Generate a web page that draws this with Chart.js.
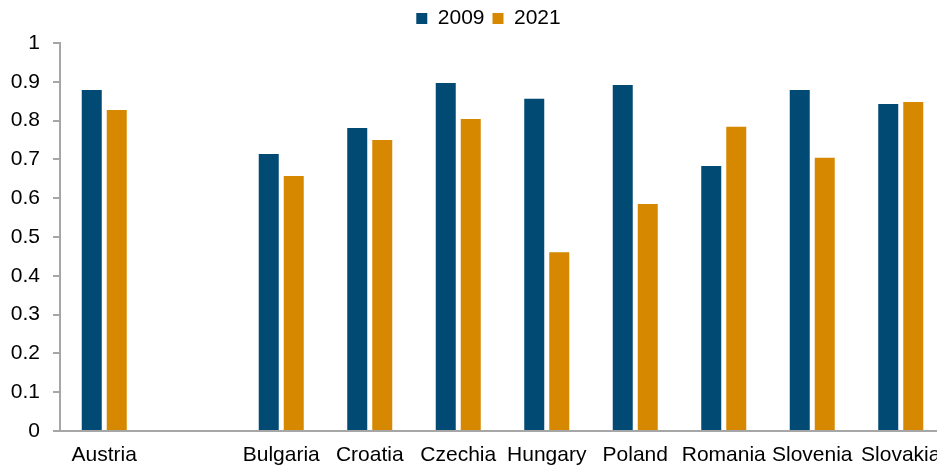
<!DOCTYPE html>
<html>
<head>
<meta charset="utf-8">
<script src="https://cdn.jsdelivr.net/npm/chart.js@4.4.1/dist/chart.umd.min.js"></script>
<style>
  html, body { margin: 0; padding: 0; background: #fff; overflow: hidden; }
  #wrap { width: 976px; height: 468px; }
</style>
</head>
<body>
<div id="wrap"><canvas id="chart"></canvas></div>
<script>
// Country comparison, 2009 vs 2021 (blank slot after Austria as in the original)
const countries = ['Austria', '', 'Bulgaria', 'Croatia', 'Czechia', 'Hungary', 'Poland', 'Romania', 'Slovenia', 'Slovakia'];
const values2009 = [0.879, null, 0.714, 0.781, 0.897, 0.856, 0.892, 0.683, 0.879, 0.843];
const values2021 = [0.827, null, 0.657, 0.750, 0.804, 0.461, 0.585, 0.784, 0.704, 0.848];
const yTicks = [0, 0.1, 0.2, 0.3, 0.4, 0.5, 0.6, 0.7, 0.8, 0.9, 1];

const axisGrey = '#a6a6a6';
const font = { family: 'Liberation Sans, Arial, sans-serif', size: 21 };

// nudge the legend so it sits where the original one does
const legendNudge = {
    id: 'legendNudge',
    afterLayout(chart) {
        chart.legend.left += 16;
        chart.legend.right += 16;
        chart.legend.top -= 4;
        chart.legend.bottom -= 4;
    }
};

new Chart(document.getElementById('chart'), {
    type: 'bar',
    data: {
        labels: countries,
        datasets: [
            { label: '2009', data: values2009, backgroundColor: '#004a74' },
            { label: '2021', data: values2021, backgroundColor: '#d68800' }
        ]
    },
    plugins: [legendNudge],
    options: {
        responsive: true,
        maintainAspectRatio: false,
        animation: false,
        datasets: { bar: { categoryPercentage: 0.565, barPercentage: 0.8 } },
        layout: { padding: { top: 4, right: 31, bottom: 0, left: 0 } },
        plugins: {
            tooltip: { enabled: false },
            legend: {
                position: 'top',
                labels: {
                    color: '#000',
                    font: font,
                    boxWidth: 11,
                    boxHeight: 11,
                    padding: 8
                }
            }
        },
        scales: {
            x: {
                grid: { display: false, drawTicks: false },
                border: { color: axisGrey, width: 2 },
                ticks: { color: '#000', font: font, padding: 12, maxRotation: 0, autoSkip: false },
                afterFit: (axis) => { axis.height = 37; }
            },
            y: {
                min: 0,
                max: 1,
                afterBuildTicks: (axis) => { axis.ticks = yTicks.map(v => ({ value: v })); },
                grid: { drawOnChartArea: false, drawTicks: true, tickLength: 7, color: axisGrey, lineWidth: 2 },
                border: { color: axisGrey, width: 2 },
                ticks: { color: '#000', font: font, padding: 13, callback: (v) => String(v) },
                afterFit: (axis) => { axis.width = 60; }
            }
        }
    }
});
</script>
</body>
</html>
